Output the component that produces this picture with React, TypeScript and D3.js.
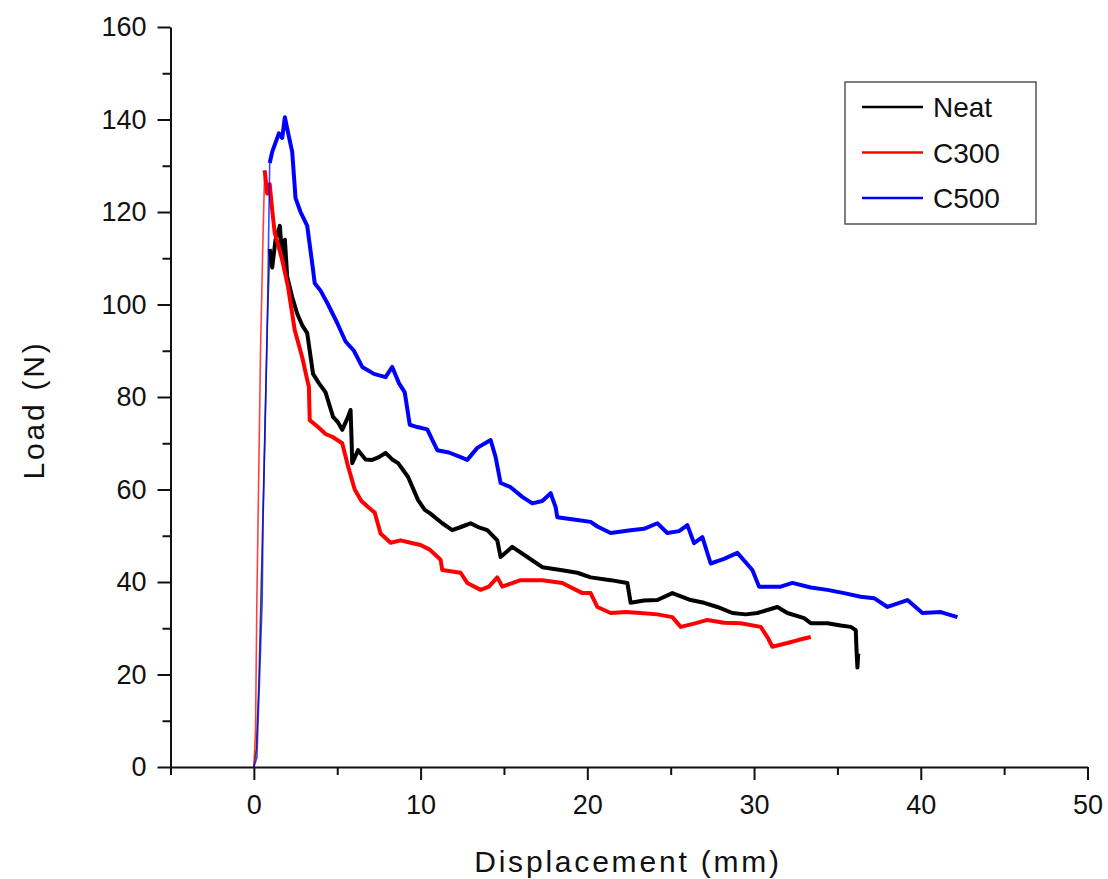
import React, { useEffect, useRef } from 'react';
import * as d3 from 'd3';

// axis ticks
const xTicks = [0, 10, 20, 30, 40, 50];
const xMinor = [-5, 5, 15, 25, 35, 45];
const yTicks = [0, 20, 40, 60, 80, 100, 120, 140, 160];
const yMinor = [10, 30, 50, 70, 90, 110, 130, 150];

const seriesNames = ['Neat', 'C300', 'C500'];
const seriesColors = ['#000000', '#ff0000', '#0000ff'];

// [displacement mm, load N]
const neat: [number, number][] = [
  [0, 0], [0.15, 4], [0.3, 18], [0.55, 55], [0.8, 95], [0.95, 112], [1.1, 108], [1.3, 114],
  [1.56, 117], [1.7, 110], [1.86, 114], [2.0, 106], [2.3, 101.6], [2.6, 98], [2.9, 95.5],
  [3.2, 93.8], [3.55, 85], [3.9, 83], [4.3, 81], [4.75, 75.7], [5.05, 74.5], [5.3, 72.9],
  [5.65, 75.7], [5.8, 77.2], [5.85, 72], [5.9, 65.7], [6.25, 68.5], [6.7, 66.5], [7.1, 66.4],
  [7.5, 67], [7.9, 67.9], [8.3, 66.5], [8.65, 65.7], [9.25, 62.7], [9.85, 57.7], [10.25, 55.6],
  [10.55, 54.9], [11.3, 52.7], [11.9, 51.2], [12.5, 52], [13, 52.7], [13.5, 51.8], [14, 51.2],
  [14.6, 49], [14.8, 45.4], [15.5, 47.6], [16.4, 45.4], [17.3, 43.2], [18.4, 42.6], [19.4, 42],
  [20.2, 41], [21.4, 40.4], [22.4, 39.8], [22.6, 35.5], [23.4, 36], [24.2, 36.1], [25.1, 37.6],
  [26.2, 36.1], [27.0, 35.5], [27.8, 34.6], [28.7, 33.3], [29.5, 33], [30.2, 33.3], [31.4, 34.6],
  [32, 33.3], [33, 32.2], [33.4, 31.1], [34.4, 31.1], [35.2, 30.6], [35.8, 30.3], [36.1, 29.6],
  [36.15, 25], [36.2, 21.5], [36.25, 24.5]
];

const c300: [number, number][] = [
  [0, 0], [0.1, 8], [0.18, 36], [0.25, 53], [0.4, 90], [0.55, 115], [0.65, 129], [0.8, 124],
  [0.95, 126], [1.1, 120.4], [1.25, 115.5], [1.45, 113], [1.7, 109.6], [2.05, 103.8], [2.45, 94.5],
  [2.9, 88.6], [3.2, 83.7], [3.3, 82.2], [3.35, 75], [3.85, 73.5], [4.3, 72], [4.7, 71.4],
  [5.3, 70], [5.65, 65], [6.05, 60], [6.45, 57.5], [6.85, 56.2], [7.25, 55], [7.6, 50.5],
  [8.2, 48.5], [8.8, 49], [9.4, 48.5], [10, 48], [10.55, 47], [11.2, 44.8], [11.3, 42.6],
  [12.4, 42], [12.8, 39.8], [13.6, 38.3], [14.1, 39], [14.6, 41], [14.9, 39], [16, 40.4],
  [17.3, 40.4], [18.5, 39.8], [19.7, 37.6], [20.2, 37.6], [20.6, 34.6], [21.4, 33.3], [22.3, 33.5],
  [23.2, 33.3], [24.2, 33], [25.1, 32.4], [25.6, 30.3], [26.4, 31], [27.2, 31.8], [28.2, 31.2],
  [29.2, 31.1], [30.4, 30.3], [30.8, 28.1], [31.1, 26], [32, 26.8], [32.7, 27.5], [33.4, 28.1]
];

const c500: [number, number][] = [
  [0, 0], [0.18, 2], [0.35, 20], [0.5, 36], [0.55, 53], [0.8, 94], [0.95, 130.6], [1.1, 133],
  [1.3, 135], [1.5, 137], [1.7, 136], [1.86, 140.5], [2.0, 138], [2.3, 133], [2.5, 123],
  [2.8, 120], [3.2, 117], [3.55, 107.5], [3.65, 104.6], [4.0, 103], [4.45, 100], [5.0, 96],
  [5.5, 92], [6.0, 90], [6.5, 86.5], [7.2, 85], [7.9, 84.3], [8.3, 86.5], [8.7, 83], [9.05, 81],
  [9.35, 74], [9.8, 73.5], [10.4, 73], [11, 68.5], [11.7, 68], [12.4, 67], [12.8, 66.4],
  [13.4, 69], [14.2, 70.7], [14.5, 67], [14.8, 61.4], [15.4, 60.5], [16.1, 58.4], [16.7, 57],
  [17.3, 57.5], [17.8, 59.2], [18.1, 56.2], [18.2, 54], [19.4, 53.4], [20.2, 53], [20.6, 52],
  [21.4, 50.6], [22.6, 51.2], [23.4, 51.5], [24.2, 52.7], [24.8, 50.6], [25.5, 51], [26, 52.3],
  [26.4, 48.4], [26.9, 49.7], [27.4, 44], [28.2, 45], [29, 46.3], [29.9, 42.6], [30.3, 39],
  [31.6, 39], [32.3, 39.8], [33.4, 38.8], [34.4, 38.3], [35.4, 37.6], [36.4, 36.8], [37.2, 36.5],
  [38, 34.6], [39.2, 36.1], [40.1, 33.3], [41.2, 33.5], [42.2, 32.4]
];

const allSeries = [neat, c300, c500];

const font = "Arial, 'Liberation Sans', sans-serif";

export default function App() {
  const xAxisRef = useRef<SVGGElement>(null);
  const yAxisRef = useRef<SVGGElement>(null);

  const width = 1108;
  const height = 879;

  const x = d3.scaleLinear().domain([-5, 50]).range([170.5, 1087.5]);
  const y = d3.scaleLinear().domain([0, 160]).range([767, 27]);

  const line = d3.line<[number, number]>()
    .x(d => x(d[0]))
    .y(d => y(d[1]));

  // the loading ramp is drawn thin, the noisy tail thick
  const splitAt = (s: [number, number][]) => {
    const top = d3.max(s, d => d[1]) || 0;
    return s.findIndex(d => d[1] > top * 0.9);
  };

  useEffect(() => {
    const gx = d3.select(xAxisRef.current);
    gx.selectAll('*').remove();
    gx.append('g')
      .call(d3.axisBottom(x).tickValues(xTicks).tickSize(13).tickPadding(15).tickSizeOuter(0).tickFormat(d3.format('d')));
    gx.append('g')
      .call(d3.axisBottom(x).tickValues(xMinor).tickSize(8).tickFormat(() => ''))
      .select('.domain').remove();

    const gy = d3.select(yAxisRef.current);
    gy.selectAll('*').remove();
    gy.append('g')
      .call(d3.axisLeft(y).tickValues(yTicks).tickSize(13).tickPadding(11).tickSizeOuter(0).tickFormat(d3.format('d')));
    gy.append('g')
      .call(d3.axisLeft(y).tickValues(yMinor).tickSize(8).tickFormat(() => ''))
      .select('.domain').remove();

    [gx, gy].forEach(g => {
      g.selectAll('path, line').attr('stroke', '#111').attr('stroke-width', 2);
      g.selectAll('text').attr('font-size', 27).attr('font-family', font).attr('fill', '#111');
    });
  }, []);

  return (
    <svg width={width} height={height} style={{ position: 'absolute', left: 0, top: 0, background: '#fff' }}>
      <rect width={width} height={height} fill="#fff" />

      {allSeries.map((s, i) => {
        const k = splitAt(s);
        return (
          <g key={seriesNames[i]}>
            <path d={line(s.slice(0, k + 1)) || ''} fill="none" stroke={seriesColors[i]}
              strokeOpacity={0.75} strokeWidth={1.6} />
            <path d={line(s.slice(k)) || ''} fill="none" stroke={seriesColors[i]}
              strokeWidth={4} strokeLinejoin="round" />
          </g>
        );
      })}

      <g ref={xAxisRef} transform={`translate(0,${y(0)})`} />
      <g ref={yAxisRef} transform={`translate(${x(-5)},0)`} />

      <text x={628} y={872} textAnchor="middle" fontFamily={font} fontSize={30}
        letterSpacing={2.8} fill="#111">Displacement (mm)</text>
      <text transform="translate(44,410) rotate(-90)" textAnchor="middle" fontFamily={font}
        fontSize={30} letterSpacing={2.8} fill="#111">Load (N)</text>

      <g>
        <rect x={845} y={82} width={191} height={142} fill="#fff" stroke="#555" strokeWidth={1.5} />
        {seriesNames.map((name, i) => (
          <g key={name} transform={`translate(0,${107 + i * 45.5})`}>
            <line x1={862} x2={923} y1={0} y2={0} stroke={seriesColors[i]} strokeWidth={2.5} />
            <text x={933} y={0} dy="0.36em" fontFamily={font} fontSize={28} fill="#111">{name}</text>
          </g>
        ))}
      </g>
    </svg>
  );
}
